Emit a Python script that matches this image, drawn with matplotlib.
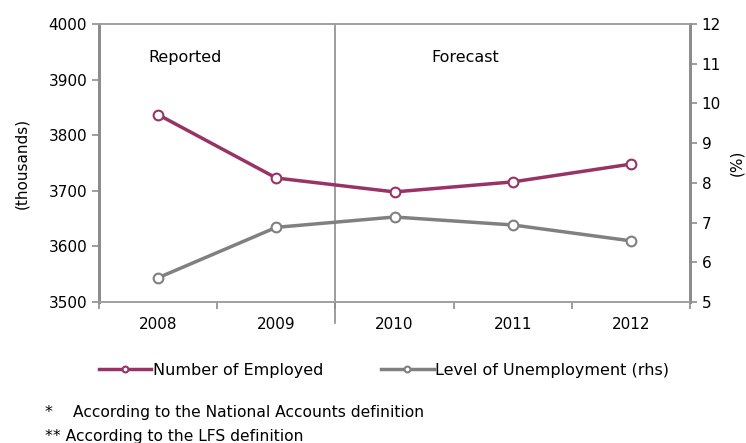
import matplotlib.pyplot as plt
import numpy as np

years = ['2008', '2009', '2010', '2011', '2012']
employed = [3837, 3723, 3698, 3716, 3748]          # thousands
unemployment = [5.61, 6.88, 7.14, 6.94, 6.54]     # %

maroon = '#993366'
grey = '#808080'
axis_grey = '#8c8c8c'

plt.rcParams['font.family'] = 'DejaVu Sans'

fig = plt.figure(figsize=(7.46, 4.43), dpi=100)
ax = fig.add_axes([99 / 746, 1 - 302 / 443, 591 / 746, 278 / 443])
ax2 = ax.twinx()

x = np.arange(len(years))
ax.plot(x, employed, color=maroon, lw=2.5, marker='o', ms=7,
        mfc='white', mec=maroon, mew=1.5, zorder=3, label='Number of Employed')
ax2.plot(x, unemployment, color=grey, lw=2.5, marker='o', ms=7,
         mfc='white', mec=grey, mew=1.5, zorder=3, label='Level of Unemployment (rhs)')

ax.set_xlim(-0.5, len(years) - 0.5)
ax.set_ylim(3500, 4000)
ax.set_yticks(np.arange(3500, 4001, 100))
ax2.set_ylim(5, 12)
ax2.set_yticks(np.arange(5, 13, 1))

# category labels centred, tick marks on the boundaries
ax.set_xticks(x)
ax.set_xticklabels(years)
ax.set_xticks(np.arange(-0.5, len(years)), minor=True)
ax.tick_params(axis='x', which='major', length=0, pad=11, labelsize=11)
ax.tick_params(axis='x', which='minor', length=5, color=axis_grey, width=1.2)
ax.tick_params(axis='y', length=5, color=axis_grey, width=1.2, labelsize=11)
ax2.tick_params(axis='y', length=5, color=axis_grey, width=1.2, labelsize=11)

for a in (ax, ax2):
    for side in ('top', 'bottom'):
        a.spines[side].set_color('#a0a0a0')
        a.spines[side].set_linewidth(1.2)
    for side in ('left', 'right'):
        a.spines[side].set_color(axis_grey)
        a.spines[side].set_linewidth(2)

ax.set_ylabel('(thousands)', fontsize=11, labelpad=14)
ax2.set_ylabel('(%)', fontsize=11, labelpad=6)

# divider between reported and forecast years
ax.axvline(1.5, ymin=-0.075, ymax=1, color=axis_grey, lw=1.2, clip_on=False)
ax.text(0.23, 3939, 'Reported', ha='center', va='center', fontsize=11.5)
ax.text(2.6, 3939, 'Forecast', ha='center', va='center', fontsize=11.5)

h1, l1 = ax.get_legend_handles_labels()
h2, l2 = ax2.get_legend_handles_labels()
fig.legend(h1 + h2, l1 + l2, loc='center', bbox_to_anchor=(384 / 746, 1 - 370 / 443),
           ncol=2, frameon=False, fontsize=11.5, handlelength=3.3, handletextpad=0.1,
           columnspacing=3.6, markerscale=0.6)

fig.text(45 / 746, 1 - 413 / 443, '*', fontsize=11.5, va='center')
fig.text(73 / 746, 1 - 413 / 443, 'According to the National Accounts definition',
         fontsize=11.2, va='center')
fig.text(45 / 746, 1 - 436 / 443, '** According to the LFS definition',
         fontsize=11.2, va='center')

fig.savefig('out.png', dpi=100)
